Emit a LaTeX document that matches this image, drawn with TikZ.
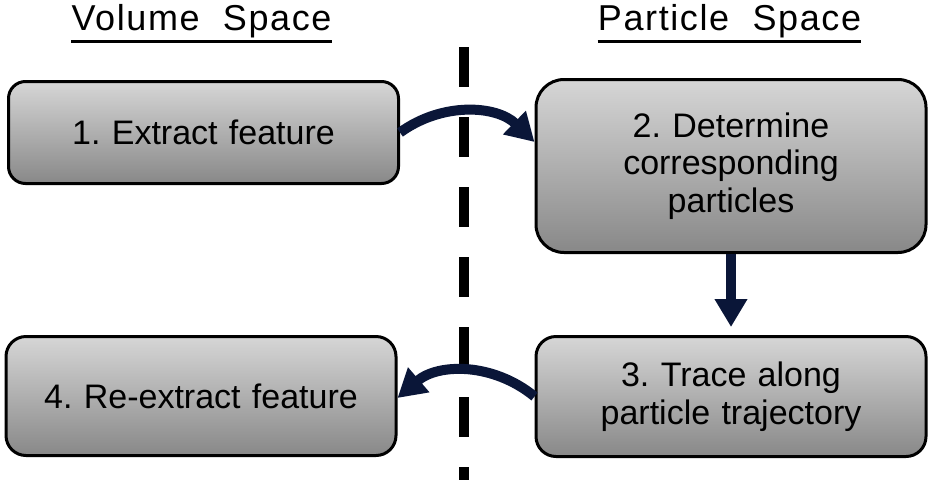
\documentclass[tikz,border=0pt]{standalone}
\usepackage{fontspec}
\setmainfont{Liberation Sans}
\newfontfamily\headfont[LetterSpace=4.5]{Liberation Sans}
\usetikzlibrary{arrows.meta,positioning,calc}
\definecolor{boxtop}{RGB}{214, 214, 214}
\definecolor{boxbottom}{RGB}{136, 136, 136}
\definecolor{arrownavy}{RGB}{10, 22, 56}
\newcommand{\boxfont}{\fontsize{34}{37.5}\selectfont}
\newcommand{\titlefont}{\headfont\fontsize{36}{40}\selectfont}
\tikzstyle{block} = [rectangle, draw, line width=3pt, top color=boxtop,
  bottom color=boxbottom, text width=390pt, inner xsep=0pt, text centered,
  font=\boxfont]
\tikzstyle{spacetitle} = [inner sep=0pt, anchor=base, font=\titlefont]
\tikzstyle{line} = [draw, line width=10pt, color=arrownavy,
  -{Triangle[length=28pt,width=31pt]}]
\frenchspacing

\begin{document}
\begin{tikzpicture}[x=1pt,y=1pt]

  \useasboundingbox (0,0) rectangle (937,-480);

  %%%%%%%%%%%%%%%%%%%%%%%%%%%%%%%%%%%%%%%%%%%%%%%%%%%%%%%%%%%%%%
  %                    HEADERS AND DIVIDER                     %
  %%%%%%%%%%%%%%%%%%%%%%%%%%%%%%%%%%%%%%%%%%%%%%%%%%%%%%%%%%%%%%

  \node [spacetitle] at (201.5,-30) (volume-space) {Volume\ \ Space};
  \node [spacetitle] at (729.5,-30) (particle-space) {Particle\ \ Space};
  \draw [line width=3pt] ([yshift=-11.5pt]volume-space.base west) -- ([yshift=-11.5pt]volume-space.base east);
  \draw [line width=3pt] ([yshift=-11.5pt]particle-space.base west) -- ([yshift=-11.5pt]particle-space.base east);

  \coordinate (divider-top) at (464,-47);
  \coordinate (divider-bottom) at (464,-480);
  \draw [line width=10pt, dash pattern=on 40pt off 30pt] (divider-top) -- (divider-bottom);

  %%%%%%%%%%%%%%%%%%%%%%%%%%%%%%%%%%%%%%%%%%%%%%%%%%%%%%%%%%%%%%
  %                    STEPS                                   %
  %%%%%%%%%%%%%%%%%%%%%%%%%%%%%%%%%%%%%%%%%%%%%%%%%%%%%%%%%%%%%%

  \node [block, 
    minimum height=102pt,
    rounded corners=17pt] at (203.5,-132.5) (extract) {
    1. Extract feature
  };
  \node [block, 
    minimum height=173pt,
    rounded corners=28pt] at (731,-166) (determine) {
    2. Determine\\corresponding\\particles
  };
  \node [block, 
    minimum height=120pt,
    rounded corners=20pt, below = 81pt of determine] (trace) {
    3. Trace along\\particle trajectory
  };
  \node [block, 
    minimum height=119pt,
    rounded corners=20pt] at (201,-396) (re-extract) {
    4. Re-extract feature
  };

  \draw[line] (extract.east) to[bend left=40] ([yshift=24pt]determine.west);
  \draw[line] (determine.south) -- ([yshift=8pt]trace.north);
  \draw[line] (trace.west) to[bend right=40] ([yshift=-2pt]re-extract.east);
  
\end{tikzpicture}
\end{document}
